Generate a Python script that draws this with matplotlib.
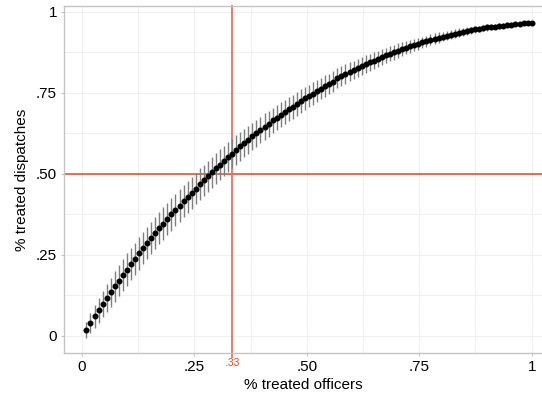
import numpy as np
import matplotlib
matplotlib.use('Agg')
import matplotlib.pyplot as plt
from matplotlib import transforms

plt.rcParams['font.family'] = ['Liberation Sans', 'DejaVu Sans']

# share of treated officers (x) -- evenly spaced grid
x_start = 0.01
x_step = 0.009
n_points = 111

# share of treated dispatches (y)
y_share = [
    0.019, 0.040, 0.060, 0.079, 0.098, 0.117, 0.135, 0.153, 0.170, 0.188,
    0.205, 0.222, 0.238, 0.255, 0.271, 0.287, 0.303, 0.318, 0.333, 0.347,
    0.361, 0.375, 0.389, 0.402, 0.416, 0.429, 0.442, 0.455, 0.468, 0.480,
    0.493, 0.505, 0.517, 0.529, 0.540, 0.552, 0.563, 0.574, 0.585, 0.596,
    0.606, 0.616, 0.626, 0.636, 0.646, 0.655, 0.665, 0.674, 0.683, 0.691,
    0.700, 0.708, 0.717, 0.725, 0.733, 0.741, 0.748, 0.756, 0.763, 0.771,
    0.778, 0.785, 0.795, 0.802, 0.809, 0.815, 0.821, 0.827, 0.833, 0.839,
    0.845, 0.850, 0.856, 0.861, 0.866, 0.871, 0.876, 0.881, 0.886, 0.890,
    0.894, 0.898, 0.902, 0.906, 0.910, 0.914, 0.918, 0.921, 0.924, 0.927,
    0.930, 0.933, 0.936, 0.939, 0.941, 0.943, 0.946, 0.948, 0.950, 0.952,
    0.954, 0.955, 0.957, 0.958, 0.960, 0.961, 0.962, 0.963, 0.965, 0.966,
    0.967,
]

# half-width of the confidence bars
y_err = [
    0.024, 0.030, 0.035, 0.038, 0.041, 0.043, 0.045, 0.047, 0.048, 0.049,
    0.050, 0.050, 0.050, 0.050, 0.050, 0.050, 0.050, 0.050, 0.050, 0.050,
    0.050, 0.050, 0.050, 0.050, 0.050, 0.050, 0.050, 0.049, 0.049, 0.049,
    0.048, 0.048, 0.048, 0.047, 0.047, 0.047, 0.046, 0.045, 0.044, 0.043,
    0.043, 0.042, 0.042, 0.041, 0.041, 0.040, 0.040, 0.039, 0.039, 0.038,
    0.038, 0.037, 0.037, 0.036, 0.036, 0.035, 0.035, 0.034, 0.033, 0.033,
    0.032, 0.032, 0.031, 0.030, 0.030, 0.029, 0.029, 0.028, 0.027, 0.027,
    0.026, 0.026, 0.025, 0.024, 0.024, 0.023, 0.023, 0.022, 0.021, 0.021,
    0.020, 0.019, 0.019, 0.018, 0.017, 0.017, 0.016, 0.016, 0.015, 0.014,
    0.014, 0.013, 0.013, 0.012, 0.012, 0.011, 0.011, 0.010, 0.010, 0.010,
    0.009, 0.009, 0.009, 0.008, 0.008, 0.007, 0.006, 0.006, 0.005, 0.005,
    0.004,
]

tick_vals = [0, 0.25, 0.5, 0.75, 1]
tick_labels = ['0', '.25', '.50', '.75', '1']
x_cut = 0.333
x_cut_label = '.33'
y_cut = 0.5

x_share = x_start + x_step * np.arange(n_points)

fig = plt.figure(figsize=(5.42, 3.97), dpi=100)
ax = fig.add_axes([0.118, 0.111, 0.882, 0.874])

ax.errorbar(x_share, y_share, yerr=y_err, fmt='o', color='black',
            ecolor='#7e7e7e', elinewidth=1.0, markersize=3.3,
            capsize=0, zorder=3)

ax.axhline(y_cut, color='#e4442e', lw=1.1, zorder=2.5)
ax.axvline(x_cut, ymin=-0.012, ymax=1, color='#e8705f', lw=1.3,
           zorder=2.5, clip_on=False)
trans = transforms.blended_transform_factory(ax.transData, ax.transAxes)
ax.text(x_cut, -0.03, x_cut_label, transform=trans, color='#e4442e',
        fontsize=7.5, ha='center', va='center')

ax.set_xlim(-0.040, 1.023)
ax.set_ylim(-0.0525, 1.0185)
ax.set_xticks(tick_vals)
ax.set_xticklabels(tick_labels)
ax.set_yticks(tick_vals)
ax.set_yticklabels(tick_labels)
ax.set_xticks(np.arange(0.125, 1.0, 0.25), minor=True)
ax.set_yticks(np.arange(0.125, 1.0, 0.25), minor=True)

ax.grid(True, which='both', color='#f0f0f0', lw=0.8, zorder=0)
ax.set_axisbelow(True)

for side in ['left', 'top', 'bottom']:
    ax.spines[side].set_color('#c4c4c4')
    ax.spines[side].set_linewidth(1.0)
ax.spines['right'].set_visible(False)

ax.tick_params(axis='both', which='major', length=2, color='#c4c4c4',
               labelsize=11)
ax.tick_params(axis='x', which='major', pad=3)
ax.tick_params(axis='y', which='major', pad=3)
ax.tick_params(axis='both', which='minor', length=0)

ax.set_xlabel('% treated officers', fontsize=11, labelpad=3)
ax.set_ylabel('% treated dispatches', fontsize=11, labelpad=5)

fig.savefig('out.png', dpi=100)
